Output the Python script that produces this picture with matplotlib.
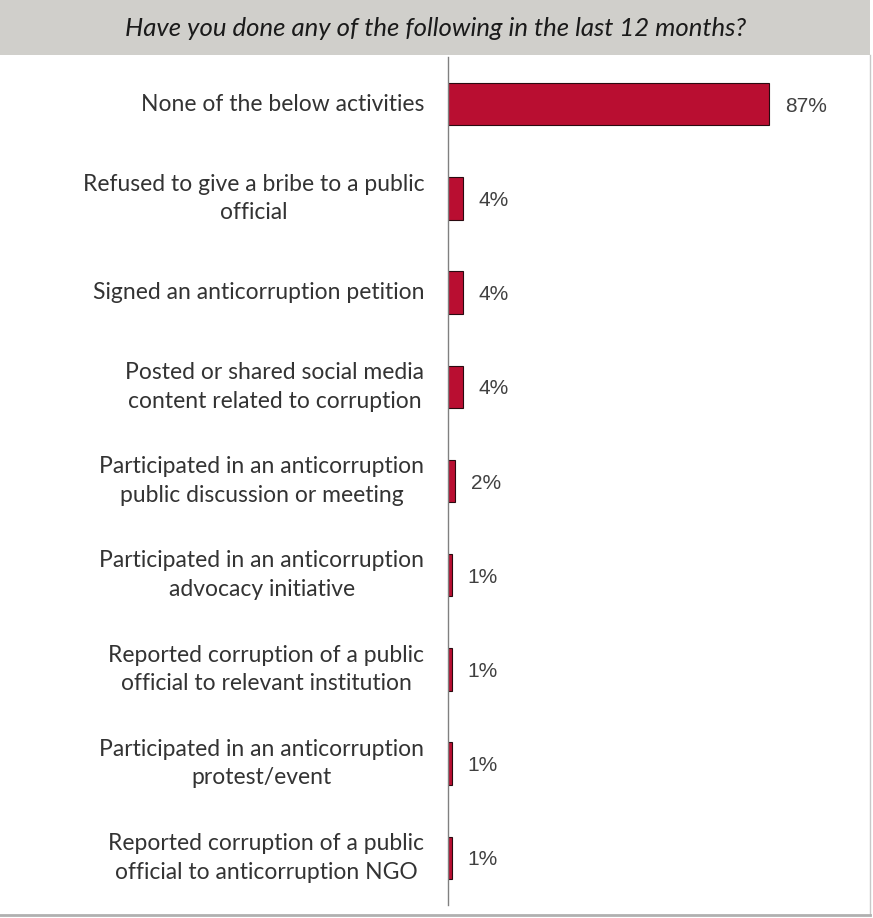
import matplotlib.pyplot as plt
from matplotlib.patches import Rectangle

activities = [
    "None of the below activities",
    "Refused to give a bribe to a public\nofficial",
    "Signed an anticorruption petition",
    "Posted or shared social media\ncontent related to corruption",
    "Participated in an anticorruption\npublic discussion or meeting",
    "Participated in an anticorruption\nadvocacy initiative",
    "Reported corruption of a public\nofficial to relevant institution",
    "Participated in an anticorruption\nprotest/event",
    "Reported corruption of a public\nofficial to anticorruption NGO",
]
percent = [87, 4, 4, 4, 2, 1, 1, 1, 1]
question = "Have you done any of the following in the last 12 months?"

W, H = 873, 918
fig = plt.figure(figsize=(W / 100, H / 100), dpi=100)
fig.patch.set_facecolor("white")

# header band
fig.patches.append(Rectangle((0, 1 - 55 / H), 870 / W, 55 / H, transform=fig.transFigure,
                             facecolor="#d0cfcb", edgecolor="none", zorder=0))
fig.text(436 / W, 1 - 29 / H, question, ha="center", va="center", fontsize=18.5,
         style="italic", family="Lato", color="#1a1a1a")
# frame lines right and bottom
fig.add_artist(plt.Line2D([870 / W, 870 / W], [1 - 55 / H, 1 - 915 / H], transform=fig.transFigure,
                          color="#c8c8c8", lw=1))
fig.add_artist(plt.Line2D([0, 870 / W], [1 - 915 / H, 1 - 915 / H], transform=fig.transFigure,
                          color="#b0b0b0", lw=2))

ax = fig.add_axes([448 / W, 1 - 905 / H, 422 / W, 848 / H])
y = list(range(len(activities)))
ax.barh(y, percent, height=0.45, color="#b90e31", edgecolor="#2a0a10", linewidth=0.8)
ax.set_xlim(0, 87 * 422 / 321)
ax.set_ylim(len(activities) - 0.5, -0.5)

for yi, p in zip(y, percent):
    ax.annotate(f"{p}%", (p, yi), xytext=(11.5, -1.5), textcoords="offset points",
                ha="left", va="center", fontsize=15, family="Liberation Sans", color="#404040")
    ax.annotate(activities[yi], (0, yi), xytext=(-17, 0), textcoords="offset points",
                ha="right", va="center", multialignment="center", fontsize=16.5,
                family="Lato", color="#333333", linespacing=1.45, annotation_clip=False)

for s in ["top", "right", "bottom"]:
    ax.spines[s].set_visible(False)
ax.spines["left"].set_color("#808080")
ax.spines["left"].set_linewidth(1)
ax.set_xticks([])
ax.set_yticks([])

fig.savefig("out.png", dpi=100)
